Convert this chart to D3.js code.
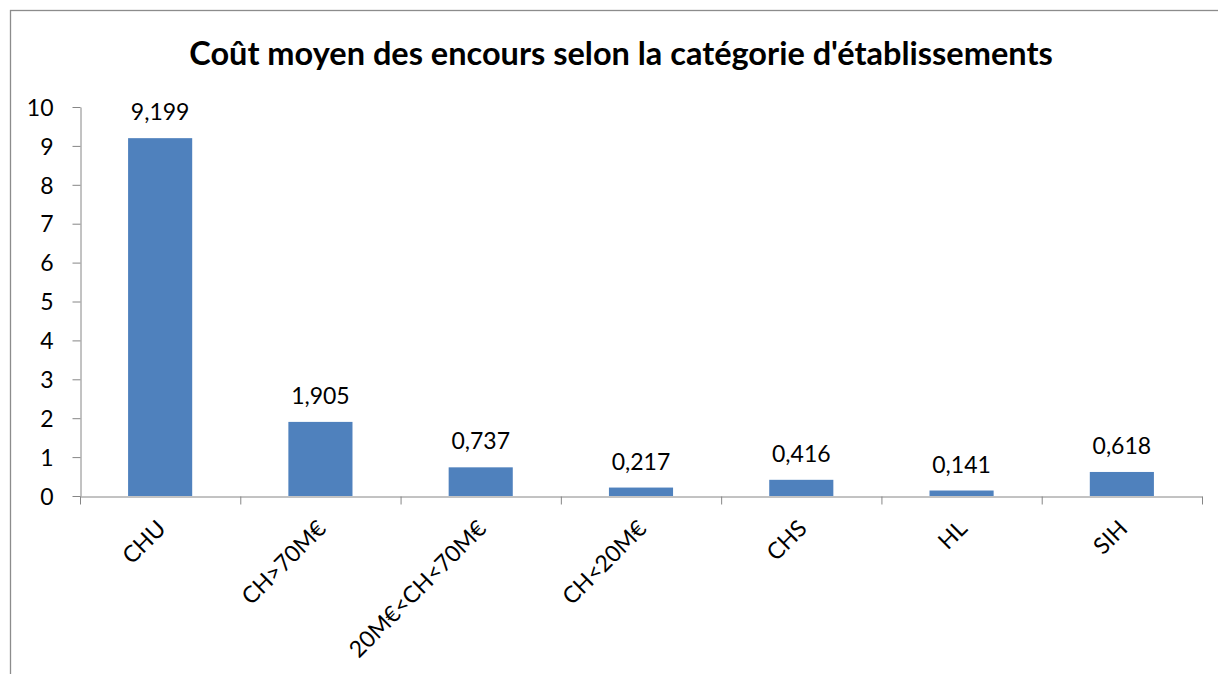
<!DOCTYPE html>
<html>
<head>
<meta charset="utf-8">
<script src="https://cdn.jsdelivr.net/npm/d3@7"></script>
<style>
  body { margin: 0; background: #fff; }
  svg text { font-family: Lato, "Open Sans", sans-serif; fill: #000; }
  .axis path, .axis line { stroke: #868686; }
</style>
</head>
<body>
<div id="chart"></div>
<script>
// data
var categories = ['CHU', 'CH>70M€', '20M€<CH<70M€', 'CH<20M€', 'CHS', 'HL', 'SIH'];
var values = [9.199, 1.905, 0.737, 0.217, 0.416, 0.141, 0.618];
var yTicks = [0, 1, 2, 3, 4, 5, 6, 7, 8, 9, 10];
var title = "Coût moyen des encours selon la catégorie d'établissements";

var width = 1218, height = 674;
var margin = {top: 107, right: 16, bottom: 178, left: 80};
var fontSize = '23px';

var svg = d3.select('#chart')
  .append('svg')
  .attr('width', width)
  .attr('height', height);

// chart frame (runs off the right and bottom edges like the original)
svg.append('rect')
  .attr('x', 10.5)
  .attr('y', 10.5)
  .attr('width', 1400)
  .attr('height', 1000)
  .attr('fill', 'none')
  .attr('stroke', '#8c8c8c')
  .attr('stroke-width', 1.3);

svg.append('text')
  .attr('x', 621)
  .attr('y', 65)
  .attr('text-anchor', 'middle')
  .style('font-size', '32.5px')
  .style('font-weight', 'bold')
  .text(title);

var x = d3.scaleBand()
  .domain(categories)
  .range([margin.left, width - margin.right])
  .paddingInner(0.6)
  .paddingOuter(0.3);

var y = d3.scaleLinear()
  .domain([0, 10])
  .range([height - margin.bottom, margin.top]);

// category boundary ticks
var xIdx = d3.scaleLinear()
  .domain([0, categories.length])
  .range([margin.left, width - margin.right]);

var yAxis = d3.axisLeft(y)
  .tickValues(yTicks)
  .tickSize(8)
  .tickSizeOuter(0)
  .tickPadding(19)
  .tickFormat(d3.format('d'));

svg.append('g')
  .attr('class', 'y axis')
  .attr('transform', 'translate(' + (margin.left + 0.5) + ',0)')
  .call(yAxis)
  .call(function(g) { g.selectAll('text').style('font-size', fontSize).attr('dy', '0.36em'); });

// bars
svg.append('g')
  .selectAll('rect')
  .data(values)
  .enter()
  .append('rect')
  .attr('x', function(d, i) { return x(categories[i]); })
  .attr('y', function(d) { return y(d); })
  .attr('width', x.bandwidth())
  .attr('height', function(d) { return y(0) - y(d); })
  .attr('fill', '#4f81bd');

var xAxis = d3.axisBottom(xIdx)
  .tickValues(d3.range(categories.length + 1))
  .tickSize(8)
  .tickSizeOuter(0)
  .tickFormat('');

svg.append('g')
  .attr('class', 'x axis')
  .attr('transform', 'translate(0,' + (y(0) + 0.5) + ')')
  .call(xAxis);

// value labels
svg.append('g')
  .selectAll('text')
  .data(values)
  .enter()
  .append('text')
  .attr('x', function(d, i) { return x(categories[i]) + x.bandwidth() / 2; })
  .attr('y', function(d) { return y(d) - 18; })
  .attr('text-anchor', 'middle')
  .style('font-size', fontSize)
  .text(function(d) { return d.toFixed(3).replace('.', ','); });

// rotated category labels
svg.append('g')
  .selectAll('text')
  .data(categories)
  .enter()
  .append('text')
  .attr('transform', function(d) {
      var cx = x(d) + x.bandwidth() / 2;
      return 'translate(' + (cx + 7) + ',' + 530 + ')rotate(-45)';
  })
  .attr('text-anchor', 'end')
  .style('font-size', fontSize)
  .text(function(d) { return d; });
</script>
</body>
</html>
